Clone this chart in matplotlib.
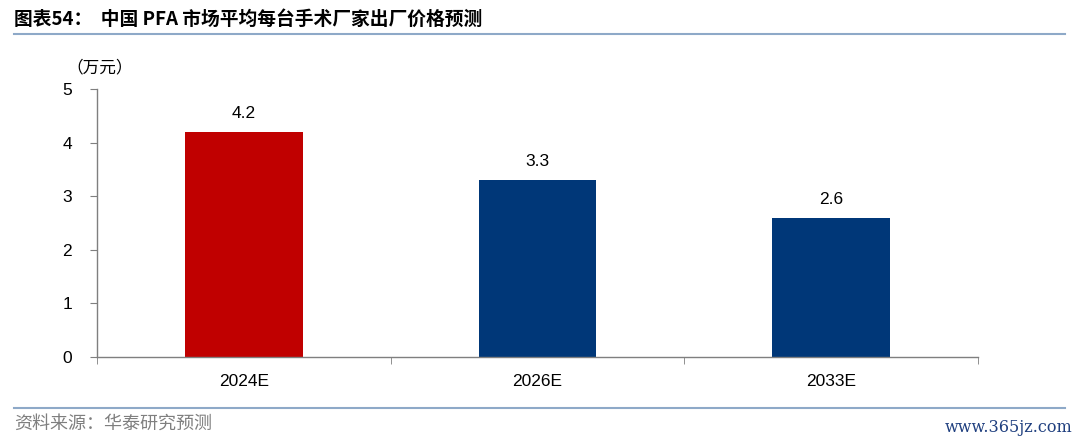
import matplotlib
matplotlib.use('Agg')
from matplotlib import pyplot as plt

categories = ['2024E', '2026E', '2033E']
values = [4.2, 3.3, 2.6]
bar_colors = ['#C00000', '#003778', '#003778']
yticks = [0, 1, 2, 3, 4, 5]

plt.rcParams['font.family'] = ['Liberation Sans', 'Noto Sans CJK SC', 'DejaVu Sans']

fig = plt.figure(figsize=(10.8, 4.42), dpi=100)
ax = fig.add_axes([97/1080, 1 - 357/442, (978 - 97)/1080, (357 - 89)/442])

x = list(range(len(categories)))
ax.bar(x, values, width=0.4, color=bar_colors, zorder=2)
for xi, v in zip(x, values):
    ax.text(xi, v + 0.2, '%.1f' % v, ha='center', va='bottom', fontsize=12.5, color='#000000')

ax.set_xlim(-0.5, len(categories) - 0.5)
ax.set_ylim(0, 5)
ax.set_yticks(yticks)
ax.set_yticklabels([str(t) for t in yticks], fontsize=12.5)
ax.set_xticks(x)
ax.set_xticklabels(categories, fontsize=12.5)
ax.set_xticks([-0.5, 0.5, 1.5, 2.5], minor=True)
ax.tick_params(axis='x', which='major', length=0, pad=12)
ax.tick_params(axis='x', which='minor', length=5, direction='out', color='#7f7f7f')
ax.tick_params(axis='y', length=5, direction='out', color='#7f7f7f', pad=13)
for s in ['top', 'right']:
    ax.spines[s].set_visible(False)
for s in ['left', 'bottom']:
    ax.spines[s].set_color('#7f7f7f')
    ax.spines[s].set_linewidth(1)

fig.text(66/1080, 1 - 68/442, '（万元）', fontsize=12, family=['Noto Sans CJK SC', 'DejaVu Sans'],
         ha='left', va='center')

# title and rules
fig.text(14/1080, 1 - 19/442, '图表54：  中国 PFA 市场平均每台手术厂家出厂价格预测', fontsize=13.5,
         fontweight='bold', family=['Noto Sans CJK SC', 'DejaVu Sans'], ha='left', va='center')
fig.add_artist(plt.Line2D([14/1080, 1065/1080], [1 - 34/442, 1 - 34/442], color='#8EA9C8', linewidth=1.5))
fig.add_artist(plt.Line2D([14/1080, 1065/1080], [1 - 408/442, 1 - 408/442], color='#8EA9C8', linewidth=1.5))
fig.text(14/1080, 1 - 424/442, '资料来源：华泰研究预测', fontsize=13, color='#7f7f7f',
         family=['Noto Sans CJK SC', 'DejaVu Sans'], ha='left', va='center')
fig.text(1072/1080, 1 - 428/442, 'www.365jz.com', fontsize=11.5, color='#1F3F7F',
         family='DejaVu Serif', ha='right', va='center')

fig.savefig('out.png', dpi=100)
